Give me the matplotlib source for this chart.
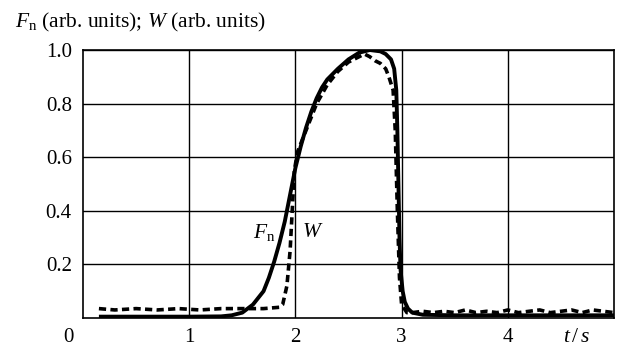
import numpy as np
import matplotlib
matplotlib.use("Agg")
import matplotlib.pyplot as plt

plt.rcParams["font.family"] = "Liberation Serif"
plt.rcParams["mathtext.fontset"] = "custom"
plt.rcParams["mathtext.rm"] = "Liberation Serif"
plt.rcParams["mathtext.it"] = "Liberation Serif:italic"

# ------------------------------------------------------------------
# Data
# ------------------------------------------------------------------
t_fn = [0.15, 0.5, 1.0, 1.3, 1.4, 1.5, 1.6, 1.7, 1.75, 1.8, 1.85, 1.9, 1.95,
        2.0, 2.05, 2.1, 2.15, 2.2, 2.25, 2.3, 2.4, 2.5, 2.6, 2.7, 2.8, 2.85,
        2.9, 2.93, 2.95, 2.96, 2.97, 2.98, 2.99, 3.01, 3.03, 3.06, 3.1, 3.2,
        3.5, 4.0, 4.5, 5.0]
fn = [0.005, 0.005, 0.005, 0.006, 0.01, 0.02, 0.05, 0.10, 0.15, 0.21, 0.28,
      0.36, 0.46, 0.56, 0.64, 0.71, 0.77, 0.82, 0.86, 0.89, 0.93, 0.965, 0.99,
      1.0, 0.995, 0.985, 0.965, 0.93, 0.85, 0.7, 0.5, 0.3, 0.18, 0.1, 0.06,
      0.035, 0.02, 0.012, 0.01, 0.01, 0.01, 0.01]

t_w = [0.15, 0.3, 0.5, 0.7, 0.9, 1.1, 1.3, 1.5, 1.7, 1.85, 1.88, 1.92, 1.95,
       1.97, 1.99, 2.02, 2.1, 2.2, 2.3, 2.4, 2.5, 2.6, 2.65, 2.7, 2.75, 2.8,
       2.85, 2.88, 2.92, 2.94, 2.96, 2.98, 3.0, 3.05, 3.1, 3.2, 3.3, 3.4,
       3.5, 3.6, 3.7, 3.8, 3.9, 4.0, 4.1, 4.2, 4.3, 4.4, 4.5, 4.6, 4.7, 4.8,
       4.9, 5.0]
w = [0.035, 0.03, 0.035, 0.03, 0.035, 0.03, 0.035, 0.035, 0.035, 0.04, 0.05,
     0.12, 0.25, 0.4, 0.55, 0.62, 0.70, 0.80, 0.87, 0.92, 0.955, 0.975,
     0.985, 0.975, 0.96, 0.95, 0.93, 0.90, 0.85, 0.7, 0.4, 0.15, 0.05, 0.02,
     0.02, 0.025, 0.02, 0.025, 0.02, 0.03, 0.02, 0.025, 0.02, 0.03, 0.02,
     0.025, 0.03, 0.02, 0.025, 0.03, 0.02, 0.03, 0.025, 0.02]

y_ticks = [0.2, 0.4, 0.6, 0.8, 1.0]
x_ticks = [1, 2, 3, 4]

# ------------------------------------------------------------------
# Plot
# ------------------------------------------------------------------
fig = plt.figure(figsize=(6.23, 3.47), dpi=100)
ax = fig.add_axes([0.1332, 0.0836, 0.8524, 0.7723])

ax.plot(t_fn, fn, color="black", lw=2.8, solid_capstyle="butt")
ax.plot(t_w, w, color="black", lw=2.6, linestyle=(0, (2.0, 1.2)))

ax.set_xlim(0, 5)
ax.set_ylim(0, 1)
ax.set_xticks(x_ticks)
ax.set_yticks(y_ticks)
ax.set_yticklabels([f"{v:.1f}" for v in y_ticks])
ax.tick_params(length=0, labelsize=15, pad=8)
ax.tick_params(axis="x", pad=7)

ax.grid(True, color="black", linewidth=1.0)
for s in ax.spines.values():
    s.set_linewidth(1.2)
    s.set_color("black")

# origin and axis unit labels
ax.text(-0.14, -0.072, "0", transform=ax.get_xaxis_transform(),
        ha="center", va="center", fontsize=15)
ax.text(4.65, -0.072, r"$t\,/\,s$", transform=ax.get_xaxis_transform(),
        ha="center", va="center", fontsize=15.5)

# curve labels
ax.text(1.71, 0.32, r"$F_{\rm n}$", ha="center", va="center", fontsize=15.5)
ax.text(2.16, 0.32, r"$W$", ha="center", va="center", fontsize=15.5)

fig.text(15 / 623, 1 - 22 / 347, r"$F_{\rm n}$ (arb. units); $W$ (arb. units)",
         ha="left", va="center", fontsize=15.5)

fig.savefig("out.png", dpi=100)
